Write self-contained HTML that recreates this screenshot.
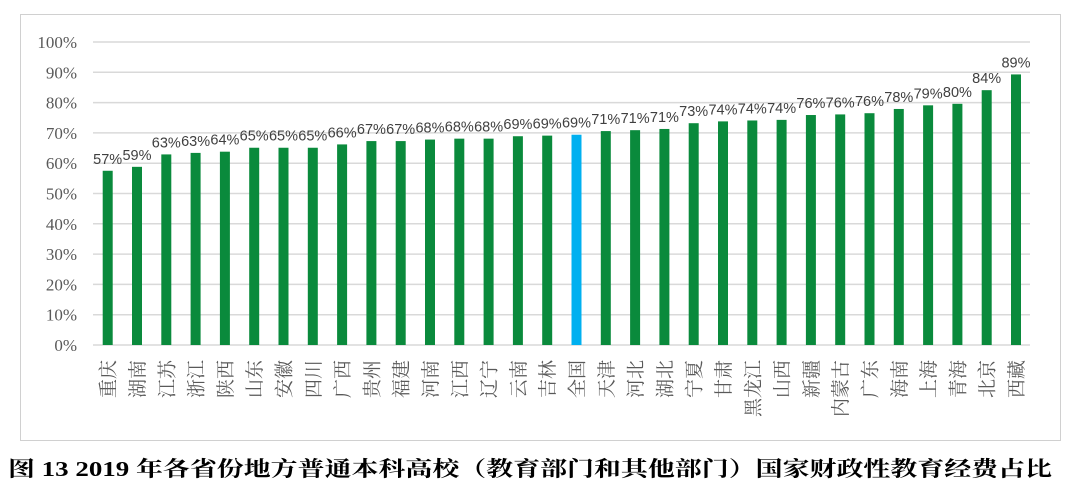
<!DOCTYPE html>
<html><head><meta charset="utf-8"><style>
body{margin:0;background:#fff;width:1080px;height:499px;overflow:hidden}
</style></head><body>
<svg width="1080" height="499" xmlns="http://www.w3.org/2000/svg">
<rect x="20.5" y="14.5" width="1040" height="426" fill="#fff" stroke="#d0d0d0"/>
<g id="g"></g>
<text x="8" y="476" textLength="1044" lengthAdjust="spacingAndGlyphs" font-family="'Liberation Serif','Noto Serif CJK SC',serif" font-weight="bold" font-size="21" fill="#000">图 13 2019 年各省份地方普通本科高校（教育部门和其他部门）国家财政性教育经费占比</text>
</svg>
<script>
var names="重庆 湖南 江苏 浙江 陕西 山东 安徽 四川 广西 贵州 福建 河南 江西 辽宁 云南 吉林 全国 天津 河北 湖北 宁夏 甘肃 黑龙江 山西 新疆 内蒙古 广东 海南 上海 青海 北京 西藏".split(" ");
var v=[57.5,58.8,62.9,63.4,63.8,65.1,65.1,65.1,66.2,67.3,67.3,67.8,68.1,68.1,68.9,69.1,69.4,70.6,70.9,71.3,73.2,73.8,74.1,74.3,75.9,76.1,76.5,77.9,79.1,79.6,84.1,89.3];
var L=[57,59,63,63,64,65,65,65,66,67,67,68,68,68,69,69,69,71,71,71,73,74,74,74,76,76,76,78,79,80,84,89];
var s="";
function Y(p){return 345-p*3.03;}
for(var i=0;i<=10;i++){var y=Y(i*10);
s+='<line x1="93" x2="1030" y1="'+y+'" y2="'+y+'" stroke="#d9d9d9" stroke-width="1.5"/>';
s+='<text x="77" y="'+(y+6)+'" text-anchor="end" font-family="Liberation Serif,serif" font-size="17" fill="#595959">'+(i*10)+'%</text>';}
for(var i=0;i<32;i++){var cx=107.7+i*29.3,y=Y(v[i]);
s+='<rect x="'+(cx-5)+'" y="'+y+'" width="10" height="'+(345-y)+'" fill="'+(i==16?'#00b0f0':'#0a8a3c')+'"/>';
s+='<text x="'+cx+'" y="'+(y-7)+'" text-anchor="middle" font-family="Liberation Sans,sans-serif" font-size="14.5" fill="#404040">'+L[i]+'%</text>';
s+='<text transform="translate('+(cx+7)+',360) rotate(-90)" text-anchor="end" font-family="\'Noto Serif CJK SC\',serif" font-size="19" fill="#595959">'+names[i]+'</text>';}
document.getElementById("g").innerHTML=s;
</script>
</body></html>
